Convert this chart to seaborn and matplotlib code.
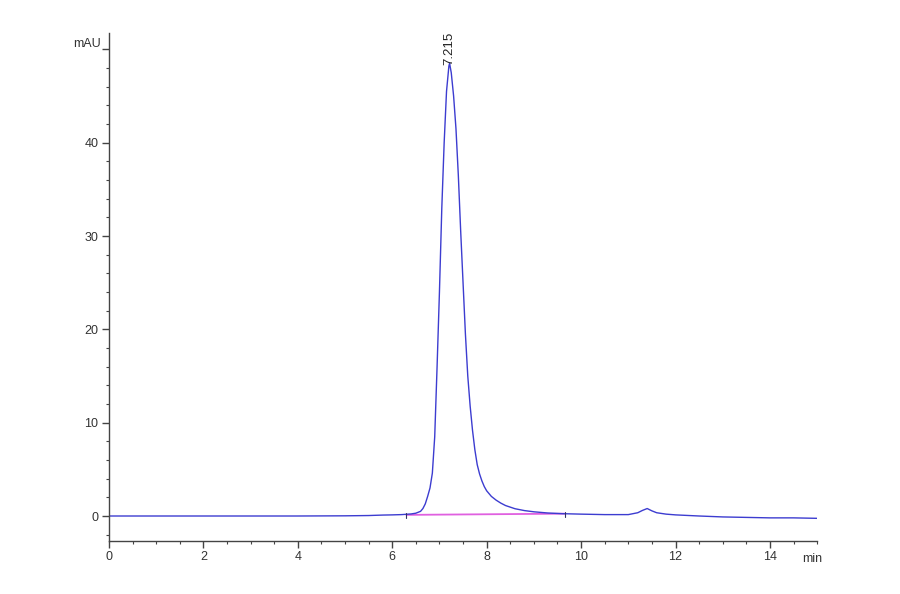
import matplotlib
matplotlib.use("Agg")
import matplotlib.pyplot as plt
import seaborn as sns
import pandas as pd
from matplotlib.ticker import MultipleLocator, FixedLocator, FixedFormatter

# ---- data ----
time_min = [0.0, 1.0, 2.0, 3.0, 4.0, 5.0, 5.5, 5.8, 6.0, 6.2, 6.4, 6.5, 6.6,
            6.65, 6.7, 6.75, 6.8, 6.85, 6.9, 6.95, 7.0, 7.05, 7.1, 7.15, 7.2,
            7.215, 7.25, 7.3, 7.35, 7.4, 7.45, 7.5, 7.55, 7.6, 7.65, 7.7, 7.75,
            7.8, 7.85, 7.9, 7.95, 8.0, 8.1, 8.2, 8.3, 8.4, 8.6, 8.8, 9.0, 9.3,
            9.6, 10.0, 10.5, 11.0, 11.2, 11.3, 11.4, 11.5, 11.6, 11.8, 12.0,
            12.5, 13.0, 13.5, 14.0, 14.5, 15.0]
signal_mau = [0.0, 0.0, 0.0, 0.0, 0.0, 0.02, 0.05, 0.1, 0.12, 0.15, 0.22, 0.3, 0.5,
              0.8, 1.3, 2.1, 3.0, 4.6, 8.5, 16.0, 24.0, 33.0, 40.0, 45.5, 48.2,
              48.5, 47.5, 45.0, 41.5, 36.5, 30.5, 25.0, 19.5, 15.0, 11.8, 9.2, 7.1,
              5.5, 4.5, 3.75, 3.15, 2.7, 2.1, 1.7, 1.38, 1.12, 0.78, 0.58, 0.45, 0.32,
              0.25, 0.2, 0.15, 0.15, 0.35, 0.6, 0.8, 0.55, 0.35, 0.2, 0.12,
              0.0, -0.1, -0.15, -0.2, -0.2, -0.25]
baseline_time = [6.3, 9.65]
baseline_mau = [0.12, 0.25]
peak_time = 7.215
peak_label = "7.215"
y_ticks = [0, 10, 20, 30, 40, 50]
y_tick_labels = ["0", "10", "20", "30", "40", ""]
y_unit = "mAU"
x_ticks = [0, 2, 4, 6, 8, 10, 12, 14]
x_tick_labels = ["0", "2", "4", "6", "8", "10", "12", "14"]
x_unit = "min"

sns.set_style("ticks")
plt.rcParams['font.family'] = ['Liberation Sans', 'DejaVu Sans']

df = pd.DataFrame({"time": time_min, "signal": signal_mau})
dfb = pd.DataFrame({"time": baseline_time, "signal": baseline_mau})

fig = plt.figure(figsize=(9, 5.94), dpi=100)
ax = fig.add_axes([0.121, 0.0892, 0.787, 0.856])

sns.lineplot(data=dfb, x="time", y="signal", ax=ax, color="#e060e0", lw=1.3)
sns.lineplot(data=df, x="time", y="signal", ax=ax, color="#3c3cd0", lw=1.0)

# integration start / end markers
for t, v in zip(baseline_time, baseline_mau):
    ax.plot([t, t], [v - 0.35, v + 0.15], color="#333366", lw=0.8)

ax.text(peak_time, 48.3, peak_label, rotation=90, ha="center", va="bottom",
        fontsize=9.5, color="#222222")

ax.set_xlim(0, 15)
ax.set_ylim(-2.68, 51.8)
ax.xaxis.set_major_locator(FixedLocator(x_ticks))
ax.xaxis.set_major_formatter(FixedFormatter(x_tick_labels))
ax.xaxis.set_minor_locator(MultipleLocator(0.5))
ax.yaxis.set_major_locator(FixedLocator(y_ticks))
ax.yaxis.set_major_formatter(FixedFormatter(y_tick_labels))
ax.yaxis.set_minor_locator(MultipleLocator(2))

for side in ["top", "right"]:
    ax.spines[side].set_visible(False)
for side in ["left", "bottom"]:
    ax.spines[side].set_color("#444444")
    ax.spines[side].set_linewidth(1.0)

ax.tick_params(axis="both", which="major", length=5, width=1, color="#444444",
               labelsize=9, labelcolor="#333333", pad=2.5)
ax.tick_params(axis="both", which="minor", length=2.5, width=0.8, color="#444444")
ax.set_xlabel("")
ax.set_ylabel("")

ax.text(-0.16, 49.9, y_unit, ha="right", va="bottom", fontsize=9,
        color="#333333", clip_on=False)
ax.text(14.68, -3.95, x_unit, ha="left", va="top", fontsize=9,
        color="#333333", clip_on=False)

fig.savefig("out.png", dpi=100, facecolor="white")
